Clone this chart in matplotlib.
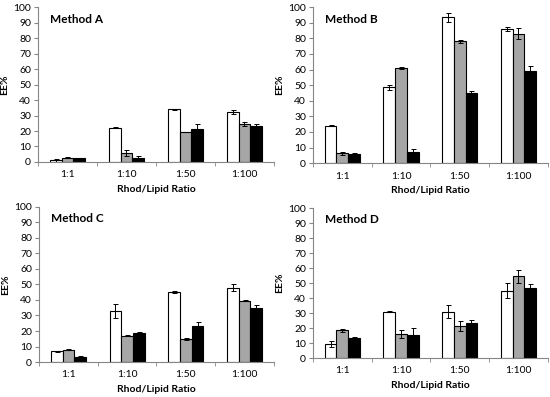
import matplotlib
matplotlib.use("Agg")
from matplotlib import pyplot as plt
import numpy as np

plt.rcParams['font.family'] = ['Lato', 'DejaVu Sans']

ratios = ["1:1", "1:10", "1:50", "1:100"]

a_white = [1.2, 22.0, 34.0, 32.3]
a_gray = [2.7, 6.0, 19.5, 24.5]
a_black = [2.3, 2.5, 21.0, 23.5]
a_white_err = [1.0, 0.3, 0.3, 1.3]
a_gray_err = [0.3, 2.0, 0.1, 1.0]
a_black_err = [0.2, 1.2, 3.3, 1.0]

b_white = [24.0, 48.5, 93.5, 86.0]
b_gray = [6.3, 61.0, 78.0, 83.0]
b_black = [5.7, 7.0, 44.7, 59.0]
b_white_err = [0.3, 1.5, 2.8, 1.0]
b_gray_err = [1.0, 0.7, 1.2, 3.5]
b_black_err = [0.8, 2.0, 1.5, 3.2]

c_white = [7.0, 33.0, 45.0, 48.0]
c_gray = [8.0, 17.0, 15.0, 39.5]
c_black = [3.5, 18.5, 23.5, 35.0]
c_white_err = [0.3, 4.5, 0.8, 2.0]
c_gray_err = [0.3, 0.3, 0.5, 0.3]
c_black_err = [0.5, 1.0, 2.5, 1.5]

d_white = [9.5, 31.0, 31.0, 45.0]
d_gray = [18.7, 16.0, 21.5, 54.5]
d_black = [13.7, 15.7, 23.7, 46.5]
d_white_err = [2.0, 0.5, 4.5, 4.8]
d_gray_err = [1.0, 2.5, 3.5, 4.5]
d_black_err = [0.3, 4.3, 2.0, 3.0]

panels = [
    ("Method A", [a_white, a_gray, a_black], [a_white_err, a_gray_err, a_black_err], [0.069, 0.592, 0.429, 0.390]),
    ("Method B", [b_white, b_gray, b_black], [b_white_err, b_gray_err, b_black_err], [0.569, 0.589, 0.427, 0.393]),
    ("Method C", [c_white, c_gray, c_black], [c_white_err, c_gray_err, c_black_err], [0.071, 0.088, 0.427, 0.391]),
    ("Method D", [d_white, d_gray, d_black], [d_white_err, d_gray_err, d_black_err], [0.569, 0.098, 0.427, 0.378]),
]

colors = ["white", "#a6a6a6", "black"]
axis_gray = "#868686"

fig = plt.figure(figsize=(5.5, 3.97), dpi=100)
x = np.arange(len(ratios))
w = 0.2
for title, series, errs, rect in panels:
    ax = fig.add_axes(rect)
    for i, (vals, err, col) in enumerate(zip(series, errs, colors)):
        ax.bar(x + (i - 1) * w, vals, w, yerr=err, color=col, edgecolor="black",
               linewidth=0.8, capsize=1.8, error_kw=dict(elinewidth=0.7, capthick=0.7, ecolor="black"))
    ax.set_xlim(-0.5, 3.5)
    ax.set_ylim(0, 100)
    ax.set_yticks(range(0, 101, 10))
    ax.set_xticks(x)
    ax.set_xticklabels(ratios)
    ax.set_xticks(np.arange(-0.5, 4, 1), minor=True)
    ax.tick_params(axis="x", which="major", length=0, labelsize=7.5, pad=6)
    ax.tick_params(axis="x", which="minor", length=3, color=axis_gray)
    ax.tick_params(axis="y", length=3, color=axis_gray, labelsize=7.5, pad=2)
    for s in ["top", "right"]:
        ax.spines[s].set_visible(False)
    for s in ["left", "bottom"]:
        ax.spines[s].set_color(axis_gray)
        ax.spines[s].set_linewidth(0.8)
    ax.set_xlabel("Rhod/Lipid Ratio", fontsize=7.5, fontweight="bold", labelpad=4)
    ax.set_ylabel("EE%", fontsize=7.5, fontweight="bold", labelpad=3)
    ax.text(0.05, 0.9, title, transform=ax.transAxes, fontsize=8.5, fontweight="bold")

fig.savefig("out.png", dpi=100)
